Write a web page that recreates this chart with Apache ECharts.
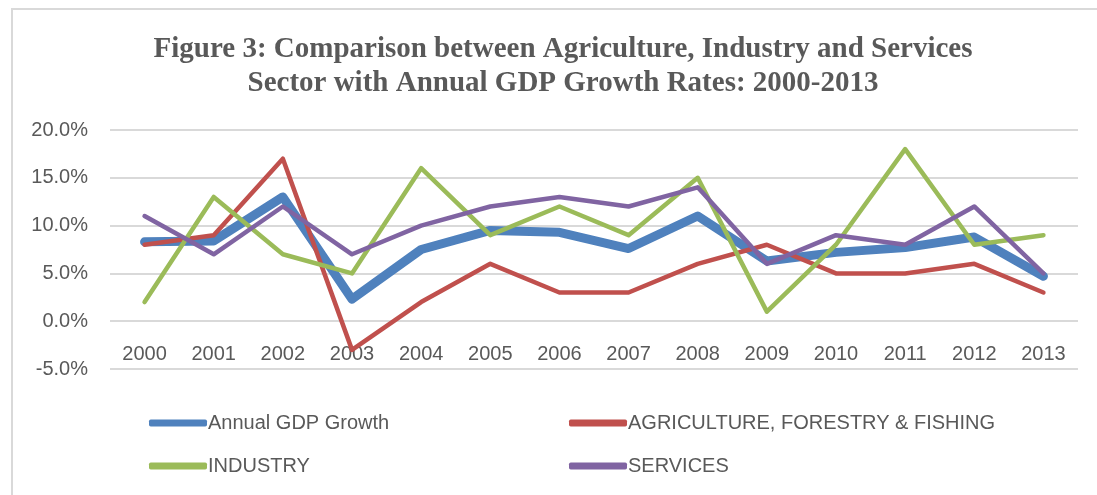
<!DOCTYPE html>
<html>
<head>
<meta charset="utf-8">
<script src="https://cdn.jsdelivr.net/npm/echarts@6/dist/echarts.min.js"></script>
<style>
html,body{margin:0;padding:0;background:#fff;}
#chart{width:1097px;height:495px;}
</style>
</head>
<body>
<div id="chart"></div>
<script>
var years = ['2000','2001','2002','2003','2004','2005','2006','2007','2008','2009','2010','2011','2012','2013'];
var gdpGrowth   = [8.3, 8.4, 13.0, 2.3, 7.5, 9.5, 9.3, 7.6, 11.0, 6.3, 7.2, 7.7, 8.8, 4.7];
var agriculture = [8, 9, 17, -3, 2, 6, 3, 3, 6, 8, 5, 5, 6, 3];
var industry    = [2, 13, 7, 5, 16, 9, 12, 9, 15, 1, 8, 18, 8, 9];
var services    = [11, 7, 12, 7, 10, 12, 13, 12, 14, 6, 9, 8, 12, 5];
var yTicks = { min: -5, max: 20, interval: 5 };
var seriesNames = ['Annual GDP Growth', 'AGRICULTURE, FORESTRY & FISHING', 'INDUSTRY', 'SERVICES'];

var chart = echarts.init(document.getElementById('chart'));
var txt = '#595959';
var gridColor = '#d9d9d9';
var fontFam = '"Liberation Sans", Arial, sans-serif';

function mk(name, data, color, width, z) {
  return {
    name: name, type: 'line', data: data, symbol: 'none', z: z,
    lineStyle: { color: color, width: width, cap: 'round', join: 'round' },
    itemStyle: { color: color },
    animation: false
  };
}

chart.setOption({
  backgroundColor: '#fff',
  animation: false,
  title: {
    text: 'Figure 3: Comparison between Agriculture, Industry and Services\nSector with Annual GDP Growth Rates: 2000-2013',
    left: 558, top: 28, textAlign: 'center',
    textStyle: { fontFamily: '"Liberation Serif", "Times New Roman", serif', fontWeight: 'bold', fontSize: 29, color: txt, lineHeight: 34, align: 'center' }
  },
  graphic: [{
    type: 'rect', silent: true, z: -10,
    shape: { x: 12, y: 9, width: 1200, height: 600 },
    style: { fill: 'none', stroke: gridColor, lineWidth: 2 }
  }],
  legend: [{
    data: [seriesNames[0], seriesNames[2]],
    orient: 'vertical', left: 144, top: 408, itemGap: 23,
    itemWidth: 58, itemHeight: 7, icon: 'roundRect',
    textStyle: { color: txt, fontSize: 20, fontFamily: fontFam, padding: [0, 0, 0, -4] }
  }, {
    data: [seriesNames[1], seriesNames[3]],
    orient: 'vertical', left: 564, top: 408, itemGap: 23,
    itemWidth: 58, itemHeight: 7, icon: 'roundRect',
    textStyle: { color: txt, fontSize: 20, fontFamily: fontFam, padding: [0, 0, 0, -4] }
  }],
  grid: { left: 110, right: 19, top: 130, bottom: 126, containLabel: false },
  xAxis: {
    type: 'category', data: years, boundaryGap: true,
    axisLine: { show: false, onZero: false },
    axisTick: { show: false },
    axisLabel: { color: txt, fontSize: 20, fontFamily: fontFam, margin: -25 },
    splitLine: { show: false }
  },
  yAxis: {
    type: 'value', min: yTicks.min, max: yTicks.max, interval: yTicks.interval,
    axisLine: { show: false }, axisTick: { show: false },
    axisLabel: { color: txt, fontSize: 20, fontFamily: fontFam, margin: 22,
      formatter: function (v) { return v.toFixed(1) + '%'; } },
    splitLine: { lineStyle: { color: gridColor, width: 2 } }
  },
  series: [
    mk(seriesNames[0], gdpGrowth, '#4f81bd', 9, 2),
    mk(seriesNames[1], agriculture, '#c0504d', 4.5, 3),
    mk(seriesNames[2], industry, '#9bbb59', 4.5, 4),
    mk(seriesNames[3], services, '#8064a2', 4.5, 5)
  ]
});
</script>
</body>
</html>
